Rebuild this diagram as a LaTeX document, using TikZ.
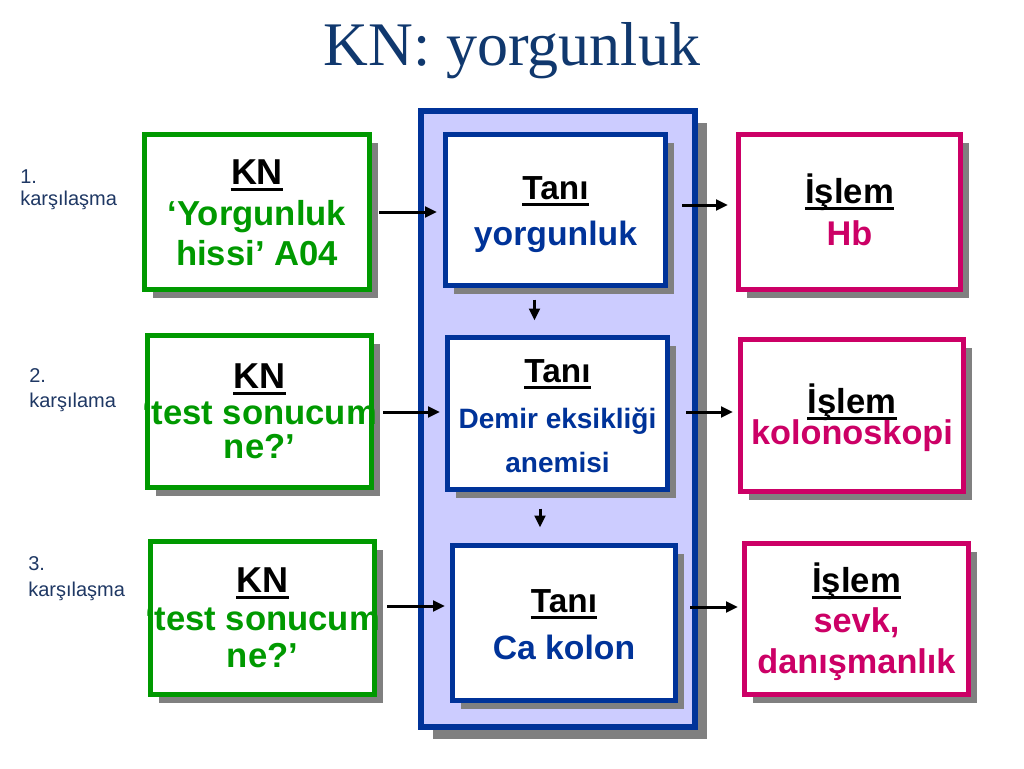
\documentclass[tikz,border=0pt]{standalone}
\usepackage{fontspec}
\setmainfont{Liberation Sans}
\newfontfamily\titlefont{Liberation Serif}
\usetikzlibrary{arrows.meta,calc,shadows}
\definecolor{titleblue}{RGB}{16,56,110}
\definecolor{lblblue}{RGB}{31,56,100}
\definecolor{kngreen}{RGB}{0,153,0}
\definecolor{tblue}{RGB}{0,51,153}
\definecolor{imag}{RGB}{204,0,102}
\definecolor{lav}{RGB}{204,204,255}
\definecolor{shade}{RGB}{128,128,128}
\tikzset{
  boxbase/.style={rectangle, line width=3.75pt, fill=white, inner sep=0pt,
    drop shadow={shadow xshift=6pt, shadow yshift=-6pt, fill=shade, opacity=1}},
  gbox/.style={boxbase, draw=kngreen},
  tbox/.style={boxbase, draw=tblue},
  ibox/.style={boxbase, draw=imag},
  container/.style={rectangle, line width=4.5pt, draw=tblue, fill=lav, inner sep=0pt,
    drop shadow={shadow xshift=9pt, shadow yshift=-9pt, fill=shade, opacity=1}},
  hdr/.style={font=\bfseries\fontsize{#1}{30pt}\selectfont, text=black, inner sep=0pt, anchor=base},
  hdr/.default=25pt,
  gtxt/.style={font=\bfseries\fontsize{26pt}{30pt}\selectfont, text=kngreen, inner sep=0pt, anchor=base},
  ttxt/.style={font=\bfseries\fontsize{25.3pt}{30pt}\selectfont, text=tblue, inner sep=0pt, anchor=base},
  tsmall/.style={font=\bfseries\fontsize{21pt}{24pt}\selectfont, text=tblue, inner sep=0pt, anchor=base},
  itxt/.style={font=\bfseries\fontsize{25.7pt}{30pt}\selectfont, text=imag, inner sep=0pt, anchor=base},
  lbl/.style={font=\fontsize{15pt}{18pt}\selectfont, text=lblblue, inner sep=0pt, anchor=base west},
  uline/.style={line width=2.3pt, black},
  arr/.style={line width=2.25pt, -{Triangle[length=9pt,width=8pt]}}
}
\begin{document}
\begin{tikzpicture}[x=0.75pt,y=-0.75pt]
\useasboundingbox[fill=white] (0,0) rectangle (1024,768);

% title
\node[font=\titlefont\fontsize{46.5pt}{52pt}\selectfont, text=titleblue, inner sep=0pt, anchor=base] (title) at (512,65) {KN: yorgunluk};

% side labels
\node[lbl] (l1a) at (20,183) {1.};
\node[lbl] (l1b) at (20,205) {karşılaşma};
\node[lbl] (l2a) at (29,382) {2.};
\node[lbl] (l2b) at (29,407) {karşılama};
\node[lbl] (l3a) at (28,570) {3.};
\node[lbl] (l3b) at (28,596) {karşılaşma};

% container
\node[container, minimum width=274*0.75pt, minimum height=616*0.75pt] (cont) at (558,419) {};

% boxes
\node[gbox, minimum width=225*0.75pt, minimum height=155*0.75pt] (g1) at (257,212) {};
\node[gbox, minimum width=224*0.75pt, minimum height=152*0.75pt] (g2) at (259.5,411.5) {};
\node[gbox, minimum width=224*0.75pt, minimum height=153*0.75pt] (g3) at (262.5,618) {};
\node[tbox, minimum width=220*0.75pt, minimum height=151*0.75pt] (t1) at (555.5,210) {};
\node[tbox, minimum width=220*0.75pt, minimum height=152*0.75pt] (t2) at (557.5,413.5) {};
\node[tbox, minimum width=223*0.75pt, minimum height=155*0.75pt] (t3) at (564,623) {};
\node[ibox, minimum width=222*0.75pt, minimum height=155*0.75pt] (i1) at (849.5,212) {};
\node[ibox, minimum width=223*0.75pt, minimum height=152*0.75pt] (i2) at (852,415.5) {};
\node[ibox, minimum width=224*0.75pt, minimum height=151*0.75pt] (i3) at (856.5,619) {};

% green texts
\node[hdr=27pt] (g1h) at (257,184) {KN};
\node[gtxt] (g1a) at (257,225) {‘Yorgunluk};
\node[gtxt] (g1b) at (257,265) {hissi’ A04};
\node[hdr=27pt] (g2h) at (259.5,388) {KN};
\node[gtxt] (g2a) at (259.5,424) {‘test sonucum};
\node[gtxt] (g2b) at (259.5,458) {ne?’};
\node[hdr=27pt] (g3h) at (262.5,592) {KN};
\node[gtxt] (g3a) at (262.5,630) {‘test sonucum};
\node[gtxt] (g3b) at (262.5,667) {ne?’};

% blue texts
\node[hdr] (t1h) at (555.5,199) {Tanı};
\node[ttxt] (t1a) at (555.5,245) {yorgunluk};
\node[hdr] (t2h) at (557.5,382) {Tanı};
\node[tsmall] (t2a) at (557.5,428) {Demir eksikliği};
\node[tsmall] (t2b) at (557.5,472) {anemisi};
\node[hdr] (t3h) at (564,612) {Tanı};
\node[ttxt] (t3a) at (564,659) {Ca kolon};

% magenta texts
\node[hdr=26pt] (i1h) at (849.5,203) {İşlem};
\node[itxt] (i1a) at (849.5,245) {Hb};
\node[hdr=26pt] (i2h) at (852,413) {İşlem};
\node[itxt] (i2a) at (852,444) {kolonoskopi};
\node[hdr=26pt] (i3h) at (856.5,592) {İşlem};
\node[itxt] (i3a) at (856.5,632) {sevk,};
\node[itxt] (i3b) at (856.5,673) {danışmanlık};

% underlines
\foreach \n in {g1h,g2h,g3h,t1h,t2h,t3h,i1h,i2h,i3h}{
  \draw[uline] ($(\n.base west)+(0,5.5)$) -- ($(\n.base east)+(0,5.5)$);
}

% arrows left -> middle
\draw[arr] ($(g1.east)+(7,0)$) -- ($(g1.east -| t1.west)+(-6,0)$);
\draw[arr] ($(g2.east)+(9,0.5)$) -- ($(g2.east -| t2.west)+(-5,0.5)$);
\draw[arr] ($(g3.east)+(10,-12)$) -- ($(g3.east -| t3.west)+(-5,-12)$);
% arrows middle -> right
\draw[arr] ($(t1.east)+(14,-5)$) -- ($(t1.east -| i1.west)+(-8,-5)$);
\draw[arr] ($(t2.east)+(16,-1.5)$) -- ($(t2.east -| i2.west)+(-5,-1.5)$);
\draw[arr] ($(t3.east)+(12,-16)$) -- ($(t3.east -| i3.west)+(-4,-16)$);
% vertical arrows
\draw[arr] ($(t1.south)+(-21,11.5)$) -- ($(t2.north)+(-23,-14.5)$);
\draw[arr] ($(t2.south)+(-17.5,16.5)$) -- ($(t3.north)+(-24,-15.5)$);
\end{tikzpicture}
\end{document}
